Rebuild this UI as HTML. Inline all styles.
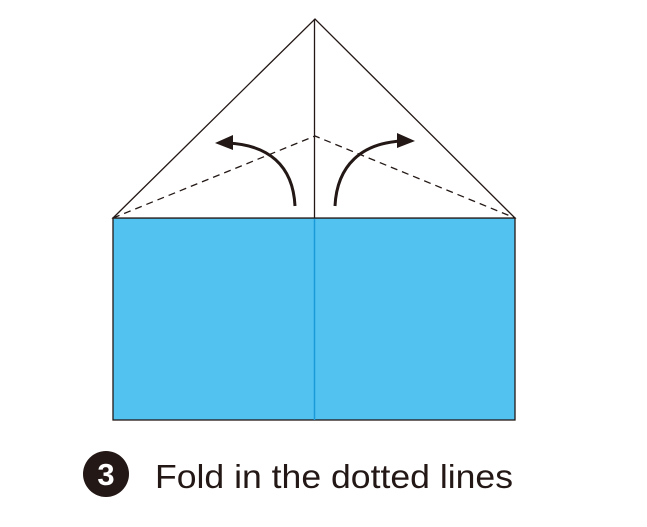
<!DOCTYPE html>
<html><head><meta charset="utf-8"><style>
html,body{margin:0;padding:0;background:#fff;width:647px;height:527px;overflow:hidden}
</style></head><body>
<svg width="647" height="527" viewBox="0 0 647 527">
<rect x="113" y="218" width="402" height="202" fill="#52c2f0" stroke="#231815" stroke-width="1.3"/>
<line x1="314.5" y1="218" x2="314.5" y2="420" stroke="#1a9ad8" stroke-width="1.5"/>
<polygon points="113,218 315,19 515,218" fill="#fff" stroke="#231815" stroke-width="1.3"/>
<line x1="314.5" y1="19" x2="314.5" y2="218" stroke="#231815" stroke-width="1.3"/>
<polyline points="113,218 315,136 515,218" fill="none" stroke="#231815" stroke-width="1.3" stroke-dasharray="7,5"/>
<path d="M295,206 C293,165 268,145 228,143" fill="none" stroke="#231815" stroke-width="3"/>
<polygon points="215,143 233,135 233,150" fill="#231815"/>
<path d="M335,206 C337,165 362,143 402,141" fill="none" stroke="#231815" stroke-width="3"/>
<polygon points="415,141 397,133 397,148" fill="#231815"/>
<circle cx="106" cy="474" r="23" fill="#231815"/>
<text x="106" y="485" text-anchor="middle" font-family="Liberation Sans, sans-serif" font-weight="bold" font-size="31" fill="#fff">3</text>
<text x="155" y="488" font-family="Liberation Sans, sans-serif" font-size="33" fill="#231815" textLength="358" lengthAdjust="spacingAndGlyphs">Fold in the dotted lines</text>
</svg>
</body></html>
